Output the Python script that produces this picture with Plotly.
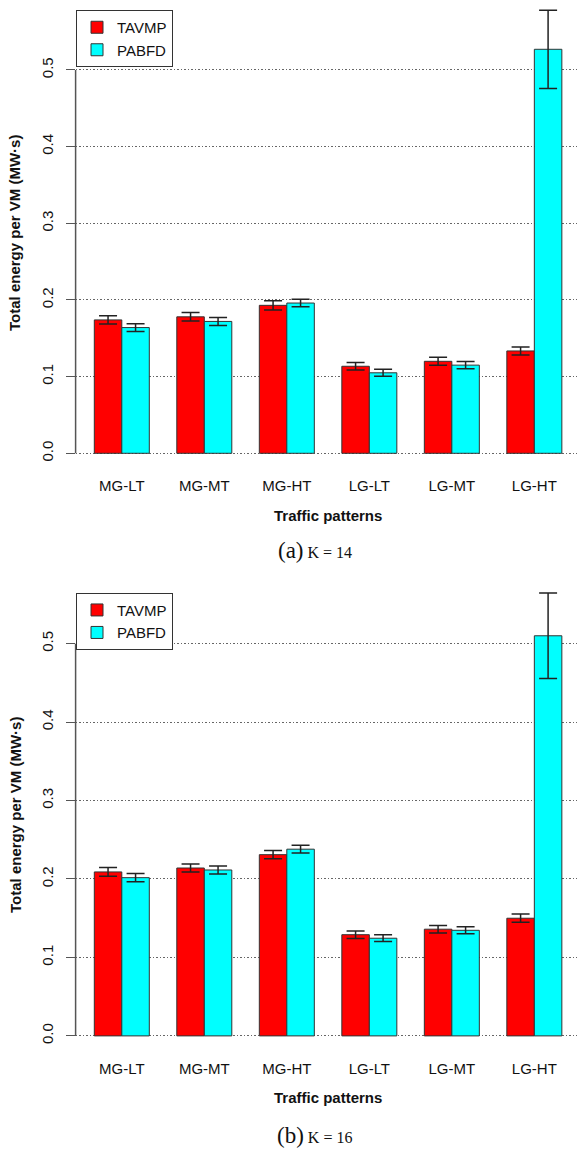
import plotly.graph_objects as go

# ---------------- data ----------------
categories = ["MG-LT", "MG-MT", "MG-HT", "LG-LT", "LG-MT", "LG-HT"]
series_names = ["TAVMP", "PABFD"]

k14_tavmp = [0.174, 0.178, 0.193, 0.1135, 0.120, 0.1335]
k14_tavmp_err = [0.0055, 0.0055, 0.006, 0.005, 0.0052, 0.0052]
k14_pabfd = [0.164, 0.172, 0.196, 0.105, 0.115, 0.527]
k14_pabfd_err = [0.005, 0.0052, 0.005, 0.0046, 0.0048, 0.051]

k16_tavmp = [0.209, 0.214, 0.231, 0.129, 0.136, 0.150]
k16_tavmp_err = [0.0055, 0.005, 0.0053, 0.0047, 0.0047, 0.0053]
k16_pabfd = [0.2017, 0.2115, 0.238, 0.1245, 0.1346, 0.510]
k16_pabfd_err = [0.0053, 0.005, 0.005, 0.0043, 0.0045, 0.0546]

y_ticks = [0.0, 0.1, 0.2, 0.3, 0.4, 0.5]
y_title = "Total energy per VM (MW·s)"
x_title = "Traffic patterns"
captions = ["(a)", "(b)"]
caption_k = ["K = 14", "K = 16"]

# ---------------- style ----------------
W, H = 577, 1149
colors = ["#FF0000", "#00FFFF"]
SANS = "Liberation Sans, Arial, sans-serif"
SERIF = "Liberation Serif, Times New Roman, serif"
x_dom0 = 75.6 / W
y_range = [-0.0218, 0.5913]
x_range = [-0.56, 5.517]
# panel pixel extents (top, bottom)
panels = [(0.0, 470.0), (572.0, 1053.0)]


def pdom(top, bot):
    return [1 - bot / H, 1 - top / H]


fig = go.Figure()

data_sets = [
    [(k14_tavmp, k14_tavmp_err), (k14_pabfd, k14_pabfd_err)],
    [(k16_tavmp, k16_tavmp_err), (k16_pabfd, k16_pabfd_err)],
]

for p, sets in enumerate(data_sets):
    ax = "" if p == 0 else str(p + 1)
    for s, (vals, errs) in enumerate(sets):
        fig.add_trace(go.Bar(
            x=categories, y=vals, name=series_names[s],
            marker=dict(color=colors[s], line=dict(color="#333333", width=1)),
            error_y=dict(type="data", array=errs, visible=True,
                         color="#222222", thickness=1.5, width=9),
            xaxis="x" + ax, yaxis="y" + ax,
            legend="legend" if p == 0 else "legend2",
            showlegend=True,
        ))

layout = dict(
    width=W, height=H,
    margin=dict(l=0, r=0, t=0, b=0),
    paper_bgcolor="white", plot_bgcolor="white",
    barmode="group", bargap=1 / 3, bargroupgap=0,
    font=dict(family=SANS, color="#111111", size=15),
    showlegend=True,
)

for p, (top, bot) in enumerate(panels):
    ax = "" if p == 0 else str(p + 1)
    layout["xaxis" + ax] = dict(
        domain=[x_dom0, 1.0], range=x_range, type="category",
        showline=False, showgrid=False, zeroline=False,
        ticks="outside", ticklen=2, tickcolor="rgba(0,0,0,0)",
        tickfont=dict(size=15, family=SANS, color="#111111"),
        anchor="y" + ax, fixedrange=True,
    )
    layout["yaxis" + ax] = dict(
        domain=pdom(top, bot), range=y_range,
        tickvals=y_ticks, ticktext=[f"{v:.1f}" for v in y_ticks],
        tickangle=-90, ticks="outside", ticklen=9, tickwidth=1,
        tickcolor="#555555", ticklabelstandoff=7,
        tickfont=dict(size=15, family=SANS, color="#111111"),
        showline=False, zeroline=False,
        showgrid=True, gridcolor="#666666", griddash="1.5px,2px", gridwidth=1,
        anchor="x" + ax, fixedrange=True,
    )

layout["legend"] = dict(
    x=76 / W, y=1 - 10 / H, xanchor="left", yanchor="top",
    bordercolor="#333333", borderwidth=1, bgcolor="white",
    font=dict(size=15, family=SANS, color="#111111"),
    tracegroupgap=0, itemwidth=30,
)
layout["legend2"] = dict(
    x=76 / W, y=1 - 592.7 / H, xanchor="left", yanchor="top",
    bordercolor="#333333", borderwidth=1, bgcolor="white",
    font=dict(size=15, family=SANS, color="#111111"),
    tracegroupgap=0, itemwidth=30,
)

shapes = []
annotations = []
label_rows = [(515, 550, 233), (1097, 1135, 815)]
for p, (top, bot) in enumerate(panels):
    ax = "" if p == 0 else str(p + 1)
    shapes.append(dict(
        type="line", xref="paper", yref="y" + ax,
        x0=x_dom0, x1=x_dom0, y0=y_ticks[0], y1=y_ticks[-1],
        line=dict(color="#555555", width=1.5),
    ))
    xt_y, cap_y, yt_y = label_rows[p]
    annotations.append(dict(
        text="<b>" + x_title + "</b>", xref="paper", yref="paper",
        x=328 / W, y=1 - xt_y / H, xanchor="center", yanchor="middle",
        showarrow=False, font=dict(size=15, family=SANS, color="#111111"),
    ))
    annotations.append(dict(
        text="<b>" + y_title + "</b>", xref="paper", yref="paper",
        x=15 / W, y=1 - yt_y / H, xanchor="center", yanchor="middle",
        textangle=-90, showarrow=False,
        font=dict(size=15, family=SANS, color="#111111"),
    ))
    annotations.append(dict(
        text="<span style='font-size:23px'>" + captions[p] + "</span> " + caption_k[p],
        xref="paper", yref="paper",
        x=315 / W, y=1 - cap_y / H, xanchor="center", yanchor="middle",
        showarrow=False, font=dict(size=16, family=SERIF, color="#111111"),
    ))

layout["shapes"] = shapes
layout["annotations"] = annotations
fig.update_layout(**layout)

fig.write_html("out.html")
